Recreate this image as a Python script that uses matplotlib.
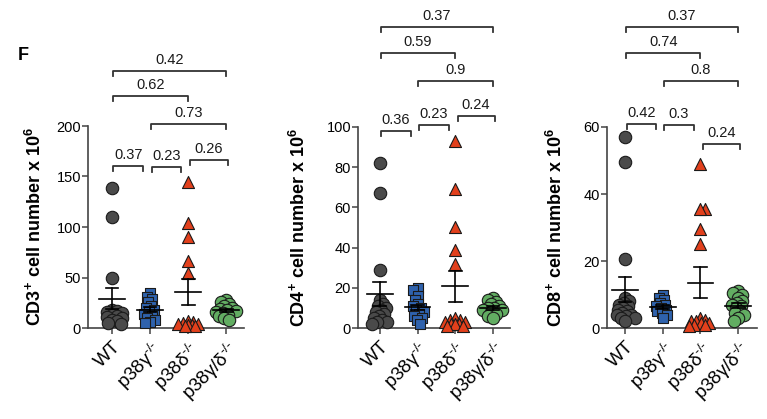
import numpy as np
import matplotlib
matplotlib.use("Agg")
import matplotlib.pyplot as plt

plt.rcParams['font.family'] = ['Liberation Sans', 'DejaVu Sans']
plt.rcParams['mathtext.fontset'] = 'custom'
plt.rcParams['mathtext.rm'] = 'Liberation Sans'
plt.rcParams['mathtext.bf'] = 'Liberation Sans:bold'

# ---- data ----
groups = ["WT", r"p38γ$^{\text{-/-}}$", r"p38δ$^{\text{-/-}}$", r"p38γ/δ$^{\text{-/-}}$"]

cd3_wt = [139, 110, 50, 18, 17, 16, 15, 13, 12, 11, 10, 8, 7, 5, 4]
cd3_g = [35, 31, 29, 26, 22, 20, 18, 16, 14, 12, 10, 8, 6, 5]
cd3_d = [145, 104, 90, 66, 54, 7, 6, 5, 4, 4, 3, 3, 2, 2]
cd3_gd = [28, 26, 24, 22, 20, 19, 18, 17, 16, 15, 13, 12, 10, 8]

cd4_wt = [82, 67, 29, 14, 12, 11, 10, 9, 8, 7, 6, 5, 4, 3, 3, 2]
cd4_g = [20, 19, 16, 14, 12, 11, 10, 9, 8, 7, 6, 5, 4, 2]
cd4_d = [93, 69, 50, 39, 32, 5, 4, 4, 3, 3, 2, 2, 2, 1, 1]
cd4_gd = [15, 14, 13, 12, 11, 10, 10, 9, 9, 8, 7, 6, 5]

cd8_wt = [57, 49.5, 20.5, 9, 8, 7.5, 7, 6.5, 6, 5.5, 5, 4.5, 4, 4, 3.5, 3, 3, 2]
cd8_g = [10, 9, 8.5, 7.5, 7, 6.5, 6, 5.5, 5, 4.5, 4, 3]
cd8_d = [49, 35.5, 35.5, 29.5, 25, 3, 2.5, 2, 2, 1.5, 1.5, 1, 1, 0.5]
cd8_gd = [11, 10.5, 10, 9, 8, 7.5, 7, 6.5, 6, 5, 4.5, 4, 3, 2]

# comparisons (group i vs group j) and their p values
pairs = [(0, 3), (0, 2), (1, 3), (0, 1), (1, 2), (2, 3)]
cd3_p = ["0.42", "0.62", "0.73", "0.37", "0.23", "0.26"]
cd4_p = ["0.37", "0.59", "0.9", "0.36", "0.23", "0.24"]
cd8_p = ["0.37", "0.74", "0.8", "0.42", "0.3", "0.24"]

cd3_ticks = [0, 50, 100, 150, 200]
cd4_ticks = [0, 20, 40, 60, 80, 100]
cd8_ticks = [0, 20, 40, 60]

# ---- styling / layout ----
styles = [
    dict(marker='o', color='#4a4a4a', s=80),
    dict(marker='s', color='#2f62ad', s=62),
    dict(marker='^', color='#e2401c', s=75),
    dict(marker='o', color='#62ad62', s=80),
]

W, H = 767, 419
panels = [
    dict(name="CD3", data=[cd3_wt, cd3_g, cd3_d, cd3_gd], p=cd3_p, ticks=cd3_ticks,
         box=(88, 244, 126, 328), xlim=(-0.63, 3.47), lab_x=-0.276,
         br_y=[1.272, 1.149, 1.010, 0.802, 0.797, 0.832]),
    dict(name="CD4", data=[cd4_wt, cd4_g, cd4_d, cd4_gd], p=cd4_p, ticks=cd4_ticks,
         box=(358, 510, 127, 328), xlim=(-0.58, 3.45), lab_x=-0.322,
         br_y=[1.498, 1.368, 1.229, 0.980, 1.010, 1.055]),
    dict(name="CD8", data=[cd8_wt, cd8_g, cd8_d, cd8_gd], p=cd8_p, ticks=cd8_ticks,
         box=(607, 757, 127, 328), xlim=(-0.48, 3.50), lab_x=-0.273,
         br_y=[1.498, 1.368, 1.229, 1.015, 1.010, 0.915]),
]


def swarm(vals, px_per_unit, d, maxw):
    # tight beeswarm, offsets in pixels, kept within +-maxw
    vals = np.asarray(vals, dtype=float)
    offs = np.zeros(len(vals))
    placed = []
    cands = np.arange(-maxw, maxw + 0.01, 0.5)
    for n, k in enumerate(np.argsort(vals)[::-1]):
        y = vals[k] * px_per_unit
        right_first = (n % 2 == 0)
        order = sorted(cands, key=lambda c: (abs(c), (c < 0) == right_first))
        best, best_d = 0.0, -1.0
        for c in order:
            md = min([np.hypot(c - px, y - py) for px, py in placed] or [1e9])
            if md >= d:
                best = c
                break
            if md > best_d + 0.5:
                best, best_d = c, md
        offs[k] = best
        placed.append((best, y))
    return offs


fig = plt.figure(figsize=(W / 100, H / 100), dpi=100)

for pan in panels:
    x0, x1, ytop, ybot = pan['box']
    ax = fig.add_axes([x0 / W, 1 - ybot / H, (x1 - x0) / W, (ybot - ytop) / H])
    ymax = pan['ticks'][-1]
    ax.set_xlim(*pan['xlim'])
    ax.set_ylim(0, ymax)
    px_y = (ybot - ytop) / ymax
    px_x = (x1 - x0) / (pan['xlim'][1] - pan['xlim'][0])

    for i, vals in enumerate(pan['data']):
        st = styles[i]
        offs = swarm(vals, px_y, 5.0, 11.0) / px_x
        ax.scatter(i + offs, vals, marker=st['marker'], s=st['s'], facecolor=st['color'],
                   edgecolor='#1a1a1a', linewidth=0.8, zorder=3, clip_on=False)
        v = np.asarray(vals, dtype=float)
        m = v.mean()
        sem = v.std(ddof=1) / np.sqrt(len(v))
        ax.plot([i - 0.34, i + 0.34], [m, m], color='black', lw=1.2, zorder=4, clip_on=False)
        ax.plot([i, i], [m - sem, m + sem], color='black', lw=1.2, zorder=4, clip_on=False)
        for yy in (m - sem, m + sem):
            ax.plot([i - 0.17, i + 0.17], [yy, yy], color='black', lw=1.2, zorder=4, clip_on=False)

    # significance brackets
    tr = ax.get_xaxis_transform()
    for (i, j), lab, yb in zip(pairs, pan['p'], pan['br_y']):
        if j - i == 1 and j < 3:
            xa, xb = i + 0.04, j - 0.18
        elif j - i == 1:
            xa, xb = i + 0.06, j + 0.04
        else:
            xa, xb = i + 0.02, j
        tick = 0.024
        ax.plot([xa, xa, xb, xb], [yb - tick, yb, yb, yb - tick], color='#333333',
                lw=1.3, transform=tr, clip_on=False)
        ax.annotate(lab, xy=((xa + xb) / 2, yb), xycoords=tr, xytext=(0, 3),
                    textcoords='offset points', ha='center', va='bottom',
                    fontsize=10.5, color='#1a1a1a')

    for sp in ('top', 'right'):
        ax.spines[sp].set_visible(False)
    for sp in ('left', 'bottom'):
        ax.spines[sp].set_color('#444444')
        ax.spines[sp].set_linewidth(1.2)
    ax.set_yticks(pan['ticks'])
    ax.set_xticks(range(4))
    ax.set_xticklabels(groups, rotation=45, ha='right', rotation_mode='anchor', fontsize=13.5)
    ax.tick_params(axis='y', length=4, width=1.1, color='#444444', labelsize=10.5, pad=1)
    ax.tick_params(axis='x', length=4, width=1.1, color='#444444', pad=3)
    ax.set_ylabel(pan['name'] + r"$^{\mathbf{+}}$ cell number x 10$^{\mathbf{6}}$",
                  fontsize=13, fontweight='bold')
    ax.yaxis.set_label_coords(pan['lab_x'], 0.5)

fig.text(23 / W, 1 - 56 / H, "F", fontsize=13, fontweight='bold', ha='center', va='center')

fig.savefig("out.png", dpi=100)
